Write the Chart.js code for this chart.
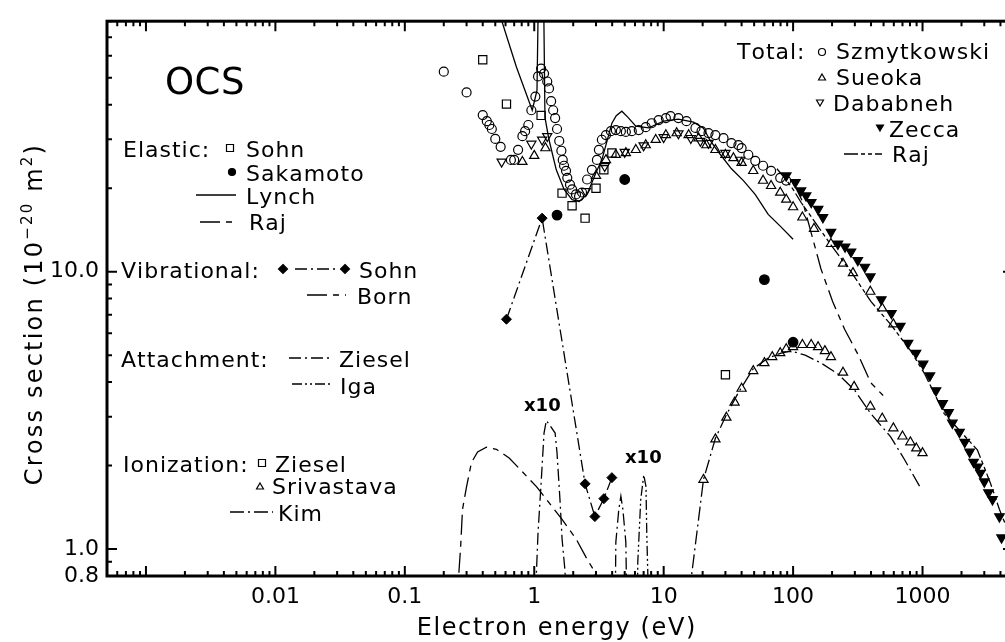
<!DOCTYPE html>
<html>
<head>
<meta charset="utf-8">
<script src="https://cdn.jsdelivr.net/npm/chart.js@4.4.0/dist/chart.umd.min.js"></script>
<style>
  html, body { margin: 0; padding: 0; overflow: hidden; background: #fff; }
  #wrap { width: 1020px; height: 642px; }
</style>
</head>
<body>
<div id="wrap"><canvas id="ocs" width="1020" height="642"></canvas></div>
<script>
// Axis ticks
const xTickVals = [0.01, 0.1, 1, 10, 100, 1000];
const xTickText = ['0.01', '0.1', '1', '10', '100', '1000'];
const yTickVals = [0.8, 1, 10];
const yTickText = ['0.8', '1.0', '10.0'];

// Total: Szmytkowski (open circles)
const szmytE = [0.20, 0.30, 0.40, 0.43, 0.45, 0.47, 0.50, 0.55, 0.66, 0.70, 0.75, 0.81, 0.85, 0.90, 0.95, 1.02, 1.07, 1.13, 1.19, 1.26, 1.30, 1.35, 1.40, 1.45, 1.50, 1.56, 1.62, 1.66, 1.70, 1.76, 1.80, 1.89, 1.96, 2.10, 2.22, 2.34, 2.56, 2.79, 3.05, 3.16, 3.33, 3.58, 3.91, 4.27, 4.67, 5.10, 5.67, 6.42, 7.27, 8.08, 9.15, 10.4, 11.3, 13.0, 15.0, 17.6, 19.6, 22.2, 25.1, 29.0, 33.4, 37.8, 40.0, 45.1, 51.0, 58.6, 67.6, 79.5, 88.5];
const szmytQ = [52.6, 44.3, 36.7, 34.9, 33.8, 32.7, 30.1, 28.2, 25.3, 25.3, 27.5, 30.8, 32.1, 33.8, 38.2, 42.8, 50.6, 54.0, 51.8, 48.5, 45.8, 41.2, 38.2, 35.8, 32.7, 29.6, 27.3, 25.3, 24.1, 23.1, 21.8, 20.6, 19.8, 19.0, 18.7, 19.3, 21.5, 23.3, 25.3, 27.5, 29.9, 31.1, 32.1, 32.4, 32.1, 31.9, 32.1, 32.4, 33.2, 34.3, 35.2, 35.8, 36.4, 35.8, 34.9, 33.0, 32.1, 31.6, 31.1, 30.3, 29.1, 28.6, 27.9, 26.4, 25.1, 24.1, 23.1, 21.8, 21.3];

// Total: Sueoka (open triangles)
const sueokaE = [0.81, 1.0, 1.22, 3.0, 3.58, 4.27, 5.1, 6.09, 7.27, 8.68, 10.4, 12.6, 15.6, 18.6, 21.4, 25.1, 30, 34.6, 40, 49.2, 58.6, 67.6, 79.5, 88.5, 100, 118, 145, 196, 243, 290, 395, 488, 595];
const sueokaQ = [24.9, 26.2, 27.9, 22.2, 25.3, 26.4, 26.8, 27.5, 28.6, 29.9, 31.1, 31.6, 31.1, 30.3, 28.6, 27.5, 26.4, 25.7, 24.7, 23.1, 21.3, 20.4, 19.3, 18.2, 17.1, 15.7, 14.3, 12.6, 10.7, 9.9, 8.48, 7.38, 6.47];

// Total: Dababneh (open down-triangles)
const dababE = [0.56, 0.95, 1.15, 1.26, 2.5, 3.5, 5.0, 7.0, 10, 13, 16.2, 19.2, 22.2, 30, 39];
const dababQ = [24.9, 28.9, 29.9, 30.8, 19.5, 24.0, 27.0, 28.5, 30.5, 31.5, 30.3, 29.6, 29.1, 26.8, 25.3];

// Total: Zecca (filled down-triangles)
const zeccaE = [88.5, 104, 115, 126, 138, 156, 170, 196, 222, 252, 280, 316, 358, 395, 480, 575, 673, 773, 890, 1010, 1140, 1270, 1430, 1590, 1700, 1930, 2120, 2310, 2480, 2660, 2800, 3000, 3230, 3470, 3930, 4080];
const zeccaQ = [22.2, 21.0, 19.6, 18.8, 17.8, 16.8, 15.7, 13.9, 12.6, 12.3, 11.8, 11.0, 10.4, 9.6, 7.94, 7.08, 6.37, 5.53, 5.09, 4.65, 4.22, 3.73, 3.35, 3.11, 2.85, 2.64, 2.43, 2.24, 2.06, 1.98, 1.88, 1.75, 1.60, 1.51, 1.31, 1.10];

// Total: Raj (theory)
const rajTotE = [75, 88, 100, 115, 196, 280, 400, 567, 810, 1040, 1470, 2650, 3330, 3930, 5000];
const rajTotQ = [23.5, 21.5, 19.8, 17.8, 12.5, 10.0, 7.8, 6.46, 5.18, 4.28, 3.08, 2.28, 1.74, 1.39, 1.05];

// Elastic
const sohnElE = [0.40, 0.61, 1.13, 1.64, 1.96, 2.47, 3.0, 3.45, 3.98];
const sohnElQ = [58.1, 40.2, 36.6, 19.2, 17.3, 15.6, 20.0, 23.3, 26.8];
const sakaE = [1.5, 5, 60, 100];
const sakaQ = [16.0, 21.5, 9.36, 5.57];
const lynchE = [0.5, 0.727, 0.965, 1.05, 1.09, 1.17, 1.21, 1.30, 1.48, 1.70, 1.96, 2.22, 2.56, 3.0, 3.33, 3.98, 4.3, 4.75, 5.3, 6.09, 7.67, 10, 13, 17, 20.3, 23, 27.5, 33.4, 41.3, 50.9, 64.2, 79.5, 100];
const lynchQ = [95, 54.8, 38.2, 45, 150, 150, 36, 29.9, 23.3, 19.8, 18.2, 17.9, 19.0, 22.8, 25.3, 34.3, 36.5, 37.9, 36.0, 33.5, 33.0, 34.9, 35.5, 34.6, 32.9, 29.6, 26.4, 23.5, 21.3, 19.0, 16.1, 14.6, 13.1];
const rajElE = [100, 119, 164, 202, 250, 316, 398, 496];
const rajElQ = [21, 17.8, 10.25, 7.81, 6.2, 5.05, 3.98, 3.58];

// Vibrational
const vibE = [0.61, 1.15, 2.47, 2.94, 3.45, 3.98];
const vibQ = [6.74, 15.6, 1.72, 1.31, 1.52, 1.81];
const bornE = [0.258, 0.262, 0.27, 0.279, 0.30, 0.327, 0.365, 0.427, 0.51, 0.64, 0.81, 1.04, 1.30, 1.64, 2.1, 2.56, 2.9, 3.05];
const bornQ = [0.6, 0.83, 1.02, 1.39, 1.68, 2.05, 2.24, 2.33, 2.29, 2.13, 1.90, 1.68, 1.47, 1.28, 1.09, 0.92, 0.835, 0.78];

// Attachment (x10)
const zieselAtE = [1.03, 1.04, 1.07, 1.13, 1.19, 1.24, 1.35, 1.45, 1.50, 1.58, 1.64, 1.73, 1.75];
const zieselAtQ = [0.6, 0.83, 1.15, 1.73, 2.62, 2.91, 2.75, 2.62, 2.22, 1.51, 1.09, 0.83, 0.6];
const zieselAt2E = [4.22, 4.27, 4.5, 4.67, 4.84, 5.1, 5.2];
const zieselAt2Q = [0.6, 1.06, 1.39, 1.55, 1.39, 1.06, 0.6];
const igaE = [6.25, 6.31, 6.65, 7.02, 7.3, 7.4, 7.55, 7.6];
const igaQ = [0.6, 0.9, 1.51, 1.85, 1.68, 1.15, 0.8, 0.6];

// Ionization
const zieselIonE = [30];
const zieselIonQ = [4.25];
const srivE = [20.3, 25.1, 30.5, 35.3, 40, 49.2, 60, 69, 79.5, 88.5, 100, 118, 138, 156, 176, 196, 243, 296, 395, 488, 595, 700, 805, 895, 1000];
const srivQ = [1.78, 2.49, 2.98, 3.38, 3.79, 4.39, 4.69, 4.93, 5.09, 5.26, 5.35, 5.45, 5.45, 5.35, 5.18, 4.93, 4.33, 3.85, 3.27, 2.96, 2.73, 2.55, 2.43, 2.31, 2.22];
const kimE = [16, 16.4, 20.3, 25.1, 30.5, 37.8, 49.2, 64.2, 80.9, 96.5, 124, 164, 222, 300, 398, 567, 727, 966];
const kimQ = [0.7, 0.8, 1.78, 2.51, 3.05, 3.67, 4.47, 4.89, 5.09, 5.18, 5.0, 4.69, 4.28, 3.73, 3.08, 2.54, 2.10, 1.66];

const FONT = 'DejaVu Sans';
const INK = '#000';
const dashLong = [20, 6, 6, 6];
const dashDot = [12, 4, 2, 4];
const dashDotDot = [10, 3, 2, 3, 2, 3];
const dashRaj = [14, 3, 4, 3, 4, 3];
const dashKim = [14, 4, 2, 4];

const pts = (e, q) => e.map((v, i) => ({ x: v, y: q[i] }));

function marks(label, e, q, style, r, filled, rot) {
  return {
    label, data: pts(e, q), showLine: false,
    pointStyle: style, pointRadius: r, pointRotation: rot || 0,
    pointBorderColor: INK, pointBorderWidth: 1.2,
    pointBackgroundColor: filled ? INK : 'rgba(0,0,0,0)'
  };
}

function curve(label, e, q, dash) {
  return {
    label, data: pts(e, q), showLine: true,
    borderColor: INK, borderWidth: 1.3, borderDash: dash || [],
    pointRadius: 0, tension: 0, fill: false
  };
}

// small drawing helpers for the hand-drawn legend
function sym(ctx, kind, x, y, r) {
  ctx.save();
  ctx.lineWidth = 1.2;
  ctx.strokeStyle = INK;
  ctx.fillStyle = INK;
  ctx.beginPath();
  if (kind === 'circle' || kind === 'dot') {
    ctx.arc(x, y, r, 0, Math.PI * 2);
  } else if (kind === 'square') {
    ctx.rect(x - r, y - r, 2 * r, 2 * r);
  } else if (kind === 'tri' || kind === 'dtri' || kind === 'fdtri') {
    const s = kind === 'tri' ? 1 : -1;
    ctx.moveTo(x, y - s * r);
    ctx.lineTo(x + r * 0.87, y + s * r * 0.5);
    ctx.lineTo(x - r * 0.87, y + s * r * 0.5);
    ctx.closePath();
  } else if (kind === 'diamond') {
    ctx.moveTo(x, y - r); ctx.lineTo(x + r, y); ctx.lineTo(x, y + r); ctx.lineTo(x - r, y);
    ctx.closePath();
  }
  if (kind === 'dot' || kind === 'fdtri' || kind === 'diamond') ctx.fill();
  ctx.stroke();
  ctx.restore();
}

function seg(ctx, x1, x2, y, dash) {
  ctx.save();
  ctx.lineWidth = 1.3;
  ctx.strokeStyle = INK;
  ctx.setLineDash(dash);
  ctx.beginPath();
  ctx.moveTo(x1, y); ctx.lineTo(x2, y);
  ctx.stroke();
  ctx.restore();
}

function setFont(ctx, size, bold) {
  ctx.font = (bold ? 'bold ' : '') + size + 'px "' + FONT + '"';
}

// width of a string drawn with extra spacing between characters
function spacedWidth(ctx, s, size, sp, bold) {
  setFont(ctx, size, bold);
  let w = 0;
  for (const ch of s) w += ctx.measureText(ch).width + sp;
  return w - sp;
}

// draws a string one character at a time, so the spacing is explicit
function txt(ctx, s, x, y, size, sp, bold) {
  if (sp === undefined) sp = 1;
  setFont(ctx, size, bold);
  ctx.textAlign = 'left';
  ctx.textBaseline = 'alphabetic';
  ctx.fillStyle = INK;
  let cx = x;
  for (const ch of s) {
    ctx.fillText(ch, cx, y);
    cx += ctx.measureText(ch).width + sp;
  }
  return cx - sp;
}

// frame plus inward ticks on all four sides
const frame = {
  id: 'frame',
  afterDatasetsDraw(chart) {
    const { ctx, chartArea: a, scales: { x, y } } = chart;
    ctx.save();
    ctx.strokeStyle = INK;
    ctx.lineWidth = 2;
    ctx.beginPath();
    for (let n = -4; n <= 3; n++) {
      for (let m = 1; m <= 9; m++) {
        const v = m * Math.pow(10, n);
        if (v < x.min * 0.999 || v > x.max * 1.001) continue;
        const px = x.getPixelForValue(v);
        const len = m === 1 ? 10 : 5;
        ctx.moveTo(px, a.bottom); ctx.lineTo(px, a.bottom - len);
        ctx.moveTo(px, a.top); ctx.lineTo(px, a.top + len);
      }
    }
    for (let n = -1; n <= 1; n++) {
      for (let m = 1; m <= 9; m++) {
        const v = m * Math.pow(10, n);
        if (v < y.min * 0.999 || v > y.max * 1.001) continue;
        const py = y.getPixelForValue(v);
        const len = m === 1 ? 10 : 5;
        ctx.moveTo(a.left, py); ctx.lineTo(a.left + len, py);
        ctx.moveTo(a.right, py); ctx.lineTo(a.right - len, py);
      }
    }
    ctx.stroke();
    ctx.lineWidth = 3;
    ctx.strokeRect(a.left, a.top, a.right - a.left, a.bottom - a.top);
    ctx.restore();
  },
  afterDraw(chart) {
    const ctx = chart.ctx;
    ctx.save();

    // axis titles
    const xt = 'Electron energy (eV)';
    const w = spacedWidth(ctx, xt, 24, 1.6);
    txt(ctx, xt, 556 - w / 2, 635, 24, 1.6);

    ctx.save();
    ctx.translate(42, 314);
    ctx.rotate(-Math.PI / 2);
    const parts = [['Cross section (10', 24, 0], ['\u221220', 15, -10], [' m', 24, 0], ['2', 15, -10], [')', 24, 0]];
    const sp = 2.2;
    let total = 0;
    parts.forEach(p => { total += spacedWidth(ctx, p[0], p[1], sp) + sp; });
    let cx = -total / 2;
    parts.forEach(p => { cx = txt(ctx, p[0], cx, p[2], p[1], sp) + sp; });
    ctx.restore();

    // left legend
    txt(ctx, 'OCS', 165, 94, 37, 0.5);
    txt(ctx, 'Elastic:', 123, 157, 22);
    sym(ctx, 'square', 230, 148, 3.5);
    txt(ctx, 'Sohn', 246, 157, 22);
    sym(ctx, 'dot', 232, 172, 3.5);
    txt(ctx, 'Sakamoto', 246, 181, 22);
    seg(ctx, 196, 236, 195, []);
    txt(ctx, 'Lynch', 246, 204, 22);
    seg(ctx, 200, 236, 222, dashLong);
    txt(ctx, 'Raj', 249, 230, 22);

    txt(ctx, 'Vibrational:', 121, 278, 22);
    sym(ctx, 'diamond', 283, 269, 4.5);
    seg(ctx, 295, 336, 269, dashDot);
    sym(ctx, 'diamond', 345, 269, 4.5);
    txt(ctx, 'Sohn', 359, 278, 22);
    seg(ctx, 307, 346, 295, dashLong);
    txt(ctx, 'Born', 357, 304, 22);

    txt(ctx, 'Attachment:', 121, 367, 22);
    seg(ctx, 289, 333, 358, dashDot);
    txt(ctx, 'Ziesel', 339, 367, 22);
    seg(ctx, 292, 333, 384, dashDotDot);
    txt(ctx, 'Iga', 340, 394, 22);

    txt(ctx, 'Ionization:', 123, 472, 22);
    sym(ctx, 'square', 262, 463, 3.5);
    txt(ctx, 'Ziesel', 275, 472, 22);
    sym(ctx, 'tri', 260, 487, 4);
    txt(ctx, 'Srivastava', 272, 494, 22);
    seg(ctx, 230, 273, 512, dashKim);
    txt(ctx, 'Kim', 278, 521, 22);

    // right legend
    txt(ctx, 'Total:', 737, 59, 22);
    sym(ctx, 'circle', 822, 52, 3.5);
    txt(ctx, 'Szmytkowski', 836, 59, 22);
    sym(ctx, 'tri', 822, 78, 4);
    txt(ctx, 'Sueoka', 836, 85, 22);
    sym(ctx, 'dtri', 820, 102, 4);
    txt(ctx, 'Dababneh', 833, 111, 22);
    sym(ctx, 'fdtri', 880, 127, 4);
    txt(ctx, 'Zecca', 889, 137, 22);
    seg(ctx, 844, 882, 154, dashRaj);
    txt(ctx, 'Raj', 892, 162, 22);

    // scale factor notes
    txt(ctx, 'x10', 524, 411, 18, 0, true);
    txt(ctx, 'x10', 625, 463, 18, 0, true);

    ctx.restore();
  }
};

new Chart(document.getElementById('ocs'), {
  type: 'scatter',
  data: {
    datasets: [
      marks('Szmytkowski', szmytE, szmytQ, 'circle', 4.5, false),
      marks('Sueoka', sueokaE, sueokaQ, 'triangle', 5.3, false),
      marks('Dababneh', dababE, dababQ, 'triangle', 5.3, false, 180),
      marks('Zecca', zeccaE, zeccaQ, 'triangle', 5.5, true, 180),
      curve('Raj total', rajTotE, rajTotQ, dashRaj),
      marks('Sohn elastic', sohnElE, sohnElQ, 'rect', 5.8, false),
      marks('Sakamoto', sakaE, sakaQ, 'circle', 4.8, true),
      curve('Lynch', lynchE, lynchQ, []),
      curve('Raj elastic', rajElE, rajElQ, dashLong),
      Object.assign(curve('Sohn vib', vibE, vibQ, dashDot), {
        pointRadius: 5, pointStyle: 'rectRot', pointBackgroundColor: INK, pointBorderColor: INK, pointBorderWidth: 1
      }),
      curve('Born', bornE, bornQ, dashLong),
      curve('Ziesel att', zieselAtE, zieselAtQ, dashDot),
      curve('Ziesel att 2', zieselAt2E, zieselAt2Q, dashDot),
      curve('Iga', igaE, igaQ, dashDotDot),
      marks('Ziesel ion', zieselIonE, zieselIonQ, 'rect', 5.8, false),
      marks('Srivastava', srivE, srivQ, 'triangle', 5.3, false),
      curve('Kim', kimE, kimQ, dashKim)
    ]
  },
  options: {
    responsive: false,
    animation: false,
    events: [],
    layout: { padding: { top: 15, right: 6, left: 0, bottom: 0 } },
    plugins: { legend: { display: false }, tooltip: { enabled: false } },
    scales: {
      x: {
        type: 'logarithmic', min: 0.0005, max: 5000,
        grid: { display: false, drawTicks: false },
        border: { display: false },
        afterBuildTicks: s => { s.ticks = xTickVals.map(v => ({ value: v })); },
        afterFit: s => { s.height = 66; },
        ticks: {
          autoSkip: false, maxRotation: 0, padding: 8, color: INK,
          font: { family: FONT, size: 22 },
          callback: (v, i) => xTickText[i]
        }
      },
      y: {
        type: 'logarithmic', min: 0.8, max: 80,
        grid: { display: false, drawTicks: false },
        border: { display: false },
        afterBuildTicks: s => { s.ticks = yTickVals.map(v => ({ value: v })); },
        afterFit: s => { s.width = 107; },
        ticks: {
          autoSkip: false, padding: 8, color: INK,
          font: { family: FONT, size: 22 },
          callback: (v, i) => yTickText[i]
        }
      }
    }
  },
  plugins: [frame]
});
</script>
</body>
</html>
